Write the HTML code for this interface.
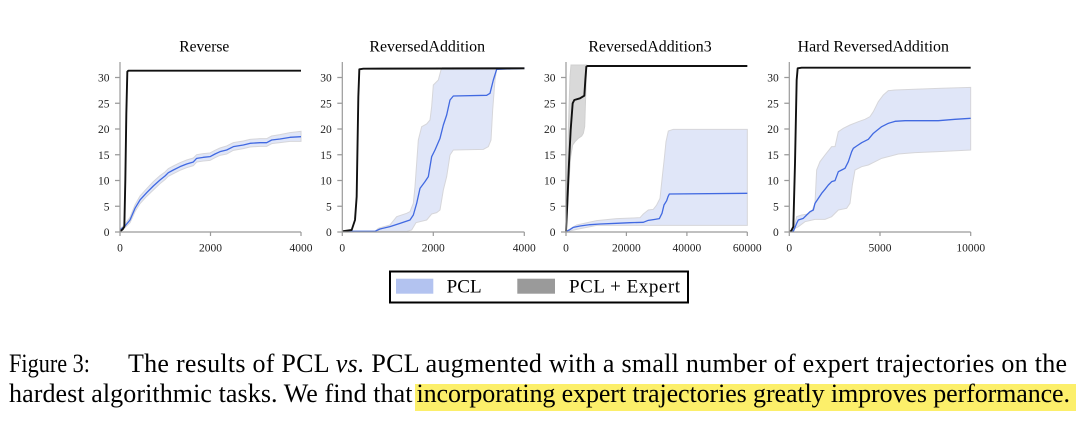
<!DOCTYPE html>
<html><head><meta charset="utf-8"><style>
html,body{margin:0;padding:0;background:#fff;width:1085px;height:436px;overflow:hidden}
svg{display:block}
.tk{font-family:"Liberation Serif",serif;font-size:11.5px;fill:#222}
.tt{font-family:"Liberation Serif",serif;font-size:15.5px;fill:#000}
.ax{stroke:#9a9a9a;stroke-width:1.2;fill:none}
.bl{fill:none;stroke:#111;stroke-width:1.9;vector-effect:non-scaling-stroke;stroke-linejoin:round}
.bu{fill:none;stroke:#4169e1;stroke-width:1.3;vector-effect:non-scaling-stroke;stroke-linejoin:round}
.bb{fill:#e0e6f8;stroke:#d6d6da;stroke-width:1;vector-effect:non-scaling-stroke}
.gb{fill:#d9d9d9;stroke:#d0d0d0;stroke-width:1;vector-effect:non-scaling-stroke}
.cap{font-family:"Liberation Serif",serif;font-size:26px;fill:#000}
.lg{font-family:"Liberation Serif",serif;font-size:19px;fill:#000}
</style></head><body>
<svg width="1085" height="436" viewBox="0 0 1085 436" xmlns="http://www.w3.org/2000/svg">

<!-- Titles -->
<text class="tt" x="204.3" y="51.7" text-anchor="middle" textLength="50" lengthAdjust="spacingAndGlyphs">Reverse</text>
<text class="tt" x="427.2" y="51.7" text-anchor="middle" textLength="115.7" lengthAdjust="spacingAndGlyphs">ReversedAddition</text>
<text class="tt" x="650" y="51.7" text-anchor="middle" textLength="123.3" lengthAdjust="spacingAndGlyphs">ReversedAddition3</text>
<text class="tt" x="873.3" y="51.7" text-anchor="middle" textLength="151.3" lengthAdjust="spacingAndGlyphs">Hard ReversedAddition</text>

<!-- ===== Panel 1 ===== -->
<g transform="matrix(0.33333,0,0,0.33333,80,30)">
<polygon class="bb" points="120,598 135,582 150,562 165,525 180,498 200,476 220,455 240,437 255,426 265,416 280,408 300,398 320,390 340,384 350,374 370,371 390,369 405,361 420,354 440,348 460,338 490,333 510,328 540,326 560,326 575,318 600,314 630,308 663,304 663,334 630,334 600,338 575,341 560,349 540,349 510,351 490,356 460,361 440,372 420,376 405,383 390,391 370,393 350,396 340,407 320,413 300,421 280,431 265,439 255,449 240,461 220,480 200,499 180,521 165,545 150,578 135,593 120,602"/>
<polyline class="bu" points="120,600 135,588 150,570 165,535 180,510 200,488 220,468 240,450 255,438 265,428 280,420 300,410 320,402 340,396 350,385 370,382 390,380 405,372 420,365 440,360 460,350 490,345 510,340 540,338 560,338 575,330 600,327 630,322 663,320"/>
<polyline class="bl" points="120,604 128,598 133,590 136,450 139,250 142,125 145,122 663,122"/>
</g>
<g>
<line class="ax" x1="120" y1="62" x2="120" y2="232"/>
<line class="ax" x1="120" y1="232" x2="301" y2="232"/>
<path class="ax" d="M115 232H120M115 206.25H120M115 180.5H120M115 154.75H120M115 129H120M115 103.25H120M115 77.5H120M120 232V236M210.5 232V236M301 232V236"/>
<text class="tk" x="109.5" y="236" text-anchor="end">0</text>
<text class="tk" x="109.5" y="210.25" text-anchor="end">5</text>
<text class="tk" x="109.5" y="184.5" text-anchor="end">10</text>
<text class="tk" x="109.5" y="158.75" text-anchor="end">15</text>
<text class="tk" x="109.5" y="133" text-anchor="end">20</text>
<text class="tk" x="109.5" y="107.25" text-anchor="end">25</text>
<text class="tk" x="109.5" y="81.5" text-anchor="end">30</text>
<text class="tk" x="120" y="251.7" text-anchor="middle">0</text>
<text class="tk" x="210.5" y="251.7" text-anchor="middle">2000</text>
<text class="tk" x="301" y="251.7" text-anchor="middle">4000</text>
</g>

<!-- ===== Panel 2 ===== -->
<g transform="matrix(0.33333,0,0,0.33333,310,30)">
<polygon class="bb" points="97,604 195,604 205,595 240,585 260,560 290,550 300,545 310,520 315,470 320,400 325,330 335,290 350,282 360,270 365,230 370,165 385,150 393,120 397,113 643,113 643,117 560,117 555,150 548,240 543,330 535,350 520,358 430,360 420,375 410,440 400,480 390,540 380,548 365,552 350,570 330,575 318,578 305,600 290,604"/>
<polyline class="bu" points="97,604 195,604 210,597 240,590 270,580 300,570 310,555 320,520 330,475 345,455 355,440 365,380 375,360 390,325 400,285 410,255 420,210 430,198 530,196 540,190 550,150 560,118 643,115"/>
<polyline class="bl" points="97,604 125,600 135,570 140,500 145,200 148,118 160,116 643,115"/>
</g>
<g>
<line class="ax" x1="342.3" y1="62" x2="342.3" y2="232"/>
<line class="ax" x1="342.3" y1="232" x2="524.3" y2="232"/>
<path class="ax" d="M337.3 232H342.3M337.3 206.25H342.3M337.3 180.5H342.3M337.3 154.75H342.3M337.3 129H342.3M337.3 103.25H342.3M337.3 77.5H342.3M342.3 232V236M433.3 232V236M524.3 232V236"/>
<text class="tk" x="331.8" y="236" text-anchor="end">0</text>
<text class="tk" x="331.8" y="210.25" text-anchor="end">5</text>
<text class="tk" x="331.8" y="184.5" text-anchor="end">10</text>
<text class="tk" x="331.8" y="158.75" text-anchor="end">15</text>
<text class="tk" x="331.8" y="133" text-anchor="end">20</text>
<text class="tk" x="331.8" y="107.25" text-anchor="end">25</text>
<text class="tk" x="331.8" y="81.5" text-anchor="end">30</text>
<text class="tk" x="342.3" y="251.7" text-anchor="middle">0</text>
<text class="tk" x="433.3" y="251.7" text-anchor="middle">2000</text>
<text class="tk" x="524.3" y="251.7" text-anchor="middle">4000</text>
</g>

<!-- ===== Panel 3 ===== -->
<g transform="matrix(0.33333,0,0,0.33333,530,30)">
<polygon class="gb" points="108,604 110,540 115,300 120,140 123,105 170,105 170,110 167,200 164,290 160,310 155,318 145,325 135,335 128,345 122,380 117,450 112,540"/>
<polygon class="bb" points="108,604 140,585 200,572 260,566 330,563 340,552 355,540 370,538 380,525 390,505 398,430 403,385 408,335 415,303 430,298 652,298 652,586 200,586 170,592 140,598 115,604"/>
<polyline class="bu" points="108,604 118,600 130,592 150,588 180,584 210,582 260,580 300,578 340,577 355,571 375,568 388,566 396,550 402,525 410,512 414,500 418,492 652,490"/>
<polyline class="bl" points="108,604 112,520 117,400 122,300 128,220 133,210 150,205 158,200 163,197 166,150 169,110 172,108 652,108"/>
</g>
<g>
<line class="ax" x1="566" y1="62" x2="566" y2="232"/>
<line class="ax" x1="566" y1="232" x2="747.3" y2="232"/>
<path class="ax" d="M561 232H566M561 206.25H566M561 180.5H566M561 154.75H566M561 129H566M561 103.25H566M561 77.5H566M566 232V236M626.4 232V236M686.9 232V236M747.3 232V236"/>
<text class="tk" x="555.5" y="236" text-anchor="end">0</text>
<text class="tk" x="555.5" y="210.25" text-anchor="end">5</text>
<text class="tk" x="555.5" y="184.5" text-anchor="end">10</text>
<text class="tk" x="555.5" y="158.75" text-anchor="end">15</text>
<text class="tk" x="555.5" y="133" text-anchor="end">20</text>
<text class="tk" x="555.5" y="107.25" text-anchor="end">25</text>
<text class="tk" x="555.5" y="81.5" text-anchor="end">30</text>
<text class="tk" x="566" y="251.7" text-anchor="middle">0</text>
<text class="tk" x="626.4" y="251.7" text-anchor="middle">20000</text>
<text class="tk" x="686.9" y="251.7" text-anchor="middle">40000</text>
<text class="tk" x="747.3" y="251.7" text-anchor="middle">60000</text>
</g>

<!-- ===== Panel 4 ===== -->
<g transform="matrix(0.33333,0,0,0.33333,755,30)">
<polygon class="bb" points="103,604 115,600 125,560 140,555 160,552 170,545 180,520 185,420 195,395 210,375 230,350 240,350 250,305 265,295 285,285 310,275 330,268 345,260 355,245 370,215 385,195 400,182 420,180 550,175 647,172 647,360 550,365 480,368 430,372 400,380 380,385 360,395 340,405 320,410 300,420 292,465 285,520 275,535 250,540 230,560 210,568 180,568 150,575 130,590"/>
<polyline class="bu" points="103,604 115,604 125,580 130,570 145,565 155,555 165,545 175,540 180,520 190,505 200,490 210,478 220,465 230,455 240,452 250,425 260,420 270,415 280,395 290,365 295,355 305,348 320,338 340,328 355,310 365,302 380,290 400,280 420,274 450,272 550,272 600,268 647,265"/>
<polyline class="bl" points="103,604 108,604 115,590 120,400 125,150 128,115 140,113 647,113"/>
</g>
<g>
<line class="ax" x1="789.3" y1="62" x2="789.3" y2="232"/>
<line class="ax" x1="789.3" y1="232" x2="970.7" y2="232"/>
<path class="ax" d="M784.3 232H789.3M784.3 206.25H789.3M784.3 180.5H789.3M784.3 154.75H789.3M784.3 129H789.3M784.3 103.25H789.3M784.3 77.5H789.3M789.3 232V236M880 232V236M970.7 232V236"/>
<text class="tk" x="778.8" y="236" text-anchor="end">0</text>
<text class="tk" x="778.8" y="210.25" text-anchor="end">5</text>
<text class="tk" x="778.8" y="184.5" text-anchor="end">10</text>
<text class="tk" x="778.8" y="158.75" text-anchor="end">15</text>
<text class="tk" x="778.8" y="133" text-anchor="end">20</text>
<text class="tk" x="778.8" y="107.25" text-anchor="end">25</text>
<text class="tk" x="778.8" y="81.5" text-anchor="end">30</text>
<text class="tk" x="789.3" y="251.7" text-anchor="middle">0</text>
<text class="tk" x="880" y="251.7" text-anchor="middle">5000</text>
<text class="tk" x="970.7" y="251.7" text-anchor="middle">10000</text>
</g>

<!-- Legend -->
<rect x="390" y="271.5" width="298" height="31" fill="#fff" stroke="#000" stroke-width="2"/>
<rect x="396" y="278.7" width="37.3" height="15" fill="#b3c3f0"/>
<text class="lg" x="446.7" y="292.7" textLength="35" lengthAdjust="spacingAndGlyphs">PCL</text>
<rect x="517.3" y="278.7" width="37.7" height="15" fill="#9a9a9a"/>
<text class="lg" x="569" y="292.7" textLength="111" lengthAdjust="spacing">PCL + Expert</text>

<!-- Caption -->
<rect x="415" y="384" width="661" height="27" fill="#fcef6a"/>
<text class="cap" x="9" y="372" textLength="81" lengthAdjust="spacingAndGlyphs">Figure 3:</text>
<text class="cap" x="128" y="372" textLength="939" lengthAdjust="spacing">The results of PCL <tspan font-style="italic">vs.</tspan> PCL augmented with a small number of expert trajectories on the</text>
<text class="cap" x="9" y="402" textLength="403.5" lengthAdjust="spacing">hardest algorithmic tasks. We find that</text>
<text class="cap" x="416.5" y="402" textLength="653.5" lengthAdjust="spacing">incorporating expert trajectories greatly improves performance.</text>
</svg>
</body></html>
